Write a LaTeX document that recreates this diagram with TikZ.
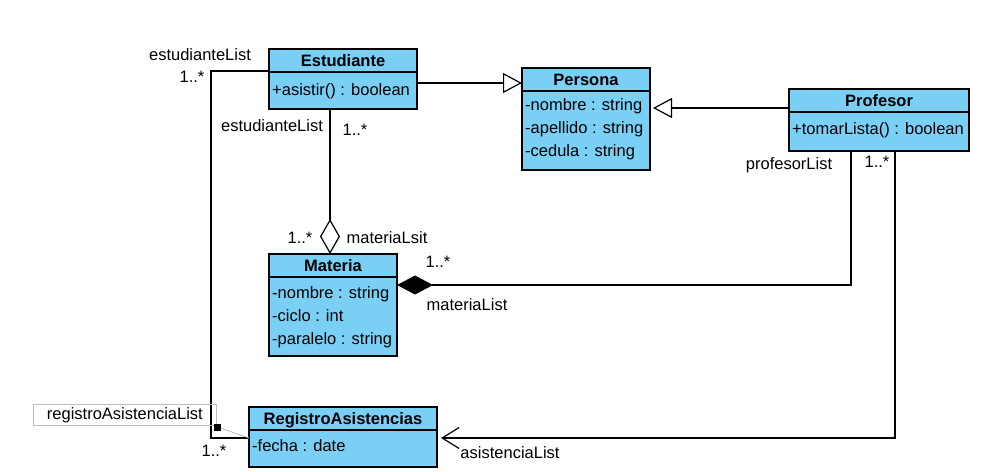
\documentclass[tikz,border=0pt]{standalone}
\usepackage{fontspec}
\setmainfont{Liberation Sans}
\usetikzlibrary{arrows.meta,calc}
\definecolor{clsfill}{RGB}{122,207,245}
\definecolor{notegray}{RGB}{190,190,190}
\begin{document}
\begin{tikzpicture}[x=1pt,y=-1pt,
  cls/.style={draw=black, line width=1.4pt, fill=clsfill, inner sep=0pt, outer sep=0pt, anchor=north west},
  sep/.style={line width=1.4pt},
  txt/.style={font=\fontsize{16.5}{18}\selectfont, inner sep=0pt, text height=11.8pt, text depth=0pt},
  hdr/.style={txt, font=\fontsize{16.5}{18}\selectfont\bfseries},
  attr/.style={txt, anchor=west},
  lbl/.style={txt},
  conn/.style={line width=1.2pt, black},
  gen/.style={conn, -{Triangle[open, length=19pt, width=20pt, line width=1.2pt]}},
  agg/.style={conn, -{Diamond[open, length=35pt, width=20pt, line width=1.2pt]}},
  comp/.style={conn, -{Diamond[fill=black, length=36pt, width=19pt, line width=1.2pt]}},
  nav/.style={conn, -{Straight Barb[length=17pt, width=21pt, line width=1.2pt]}}
]
\useasboundingbox (0,0) rectangle (990,471);

% classes
\node[cls, minimum width=148pt, minimum height=60pt] (est) at (269,49) {};
\draw[sep] (est.west |- 0,72) -- (est.east |- 0,72);
\node[hdr] (estH) at (343,61) {Estudiante};
\node[attr] (estA) at (272,90) {+asistir() : boolean};

\node[cls, minimum width=128pt, minimum height=102pt] (per) at (522,68) {};
\draw[sep] (per.west |- 0,91) -- (per.east |- 0,91);
\node[hdr] (perH) at (586,80) {Persona};
\node[attr] (perA1) at (525,105) {-nombre : string};
\node[attr] (perA2) at (525,128) {-apellido : string};
\node[attr] (perA3) at (525,151) {-cedula : string};

\node[cls, minimum width=180pt, minimum height=62pt] (prof) at (789,89) {};
\draw[sep] (prof.west |- 0,112) -- (prof.east |- 0,112);
\node[hdr] (profH) at (879,101) {Profesor};
\node[attr] (profA) at (792,129) {+tomarLista() : boolean};

\node[cls, minimum width=128pt, minimum height=102pt] (mat) at (269,254) {};
\draw[sep] (mat.west |- 0,277) -- (mat.east |- 0,277);
\node[hdr] (matH) at (333,266) {Materia};
\node[attr] (matA1) at (272,293) {-nombre : string};
\node[attr] (matA2) at (272,316) {-ciclo : int};
\node[attr] (matA3) at (272,339) {-paralelo : string};

\node[cls, minimum width=188pt, minimum height=60pt] (reg) at (249,407) {};
\draw[sep] (reg.west |- 0,430) -- (reg.east |- 0,430);
\node[hdr] (regH) at (343,419) {RegistroAsistencias};
\node[attr] (regA) at (252,446) {-fecha : date};

% generalizations
\draw[gen] (est.east |- 0,83) -- (per.west |- 0,83);
\draw[gen, shorten >=3pt] (prof.west |- 0,108) -- (per.east |- 0,108);

% aggregation Estudiante - Materia
\draw[agg] (est.south -| 330,0) -- (mat.north -| 330,0);
\node[lbl] (l1) at (272,126) {estudianteList};
\node[lbl] (l2) at (355,130) {1..*};
\node[lbl] (l3) at (300,238) {1..*};
\node[lbl] (l4) at (387,238) {materiaLsit};

% composition Profesor - Materia
\draw[comp] (prof.south -| 851,0) |- (mat.east |- 0,285);
\node[lbl] (l5) at (789,164) {profesorList};
\node[lbl] (l6) at (877,162) {1..*};
\node[lbl] (l7) at (438,262) {1..*};
\node[lbl] (l8) at (467,305) {materiaList};

% navigable Profesor - RegistroAsistencias
\draw[nav, shorten >=4pt] (prof.south -| 895,0) |- (reg.east |- 0,438);
\node[lbl] (l9) at (510,453) {asistenciaList};

% Estudiante - RegistroAsistencias
\coordinate (bend) at (211,438);
\draw[conn] (est.west |- 0,71) -| (bend) -- (reg.west |- 0,438);
\node[lbl] (l10) at (200,55) {estudianteList};
\node[lbl] (l11) at (192,77) {1..*};
\node[lbl] (l12) at (214,451) {1..*};

% role label note
\node[draw=notegray, line width=0.8pt, minimum width=183pt, minimum height=21pt, inner sep=0pt, anchor=north west, font=\fontsize{16.5}{18}\selectfont] (rlbl) at (33,404) {registroAsistenciaList};
\node[fill=black, minimum size=7pt, inner sep=0pt] (sq) at (217,427) {};
\draw[notegray, line width=0.8pt] (sq) -- (reg.west |- 0,438);
\end{tikzpicture}
\end{document}
